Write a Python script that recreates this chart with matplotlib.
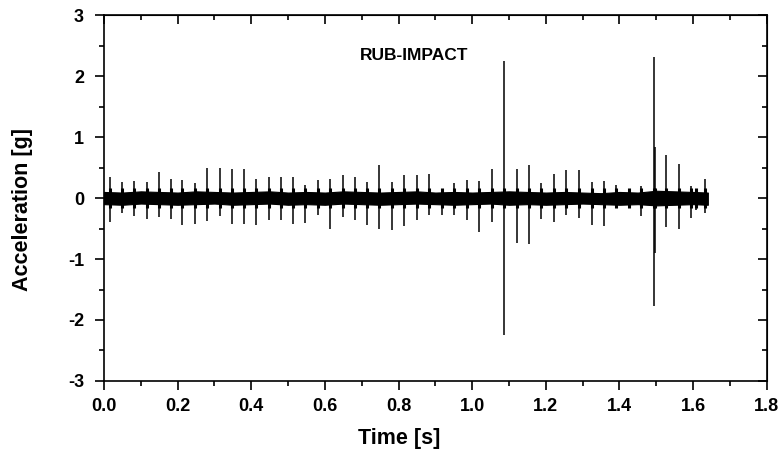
import matplotlib.pyplot as plt
from matplotlib.ticker import MultipleLocator

# spike times [s] with their positive and negative peaks [g]
spike_t = [0.016, 0.048, 0.082, 0.116, 0.149, 0.182, 0.213, 0.247, 0.280, 0.315,
           0.347, 0.380, 0.413, 0.447, 0.481, 0.512, 0.547, 0.580, 0.614, 0.648,
           0.681, 0.713, 0.748, 0.782, 0.815, 0.849, 0.882, 0.917, 0.950, 0.985,
           1.018, 1.053, 1.087, 1.121, 1.155, 1.188, 1.222, 1.256, 1.290, 1.324,
           1.357, 1.390, 1.425, 1.459, 1.495, 1.497, 1.527, 1.562, 1.595, 1.609, 1.631]
spike_top = [0.35, 0.26, 0.28, 0.26, 0.43, 0.31, 0.30, 0.24, 0.50, 0.50,
             0.47, 0.47, 0.32, 0.35, 0.34, 0.35, 0.21, 0.30, 0.32, 0.38,
             0.34, 0.27, 0.54, 0.26, 0.38, 0.38, 0.40, 0.13, 0.25, 0.30,
             0.28, 0.47, 2.25, 0.47, 0.54, 0.25, 0.40, 0.46, 0.46, 0.27,
             0.28, 0.21, 0.12, 0.19, 2.31, 0.84, 0.70, 0.56, 0.19, 0.12, 0.31]
spike_bot = [-0.39, -0.25, -0.30, -0.35, -0.31, -0.34, -0.44, -0.43, -0.37, -0.30,
             -0.42, -0.42, -0.44, -0.36, -0.36, -0.43, -0.41, -0.28, -0.51, -0.31,
             -0.36, -0.44, -0.51, -0.52, -0.46, -0.36, -0.28, -0.28, -0.28, -0.36,
             -0.55, -0.40, -2.25, -0.74, -0.75, -0.35, -0.39, -0.27, -0.32, -0.45,
             -0.46, -0.14, -0.12, -0.29, -1.77, -0.90, -0.48, -0.50, -0.33, -0.20, -0.25]

# envelope of the background vibration band
band_t = [0.00, 0.05, 0.10, 0.15, 0.20, 0.25, 0.30, 0.35, 0.40, 0.45, 0.50,
          0.55, 0.60, 0.65, 0.70, 0.75, 0.80, 0.85, 0.90, 0.95, 1.00, 1.05,
          1.10, 1.15, 1.20, 1.25, 1.30, 1.35, 1.40, 1.45, 1.50, 1.55, 1.60, 1.64]
band_hi = [0.10, 0.09, 0.11, 0.10, 0.09, 0.11, 0.10, 0.09, 0.10, 0.11, 0.09,
           0.10, 0.09, 0.11, 0.10, 0.09, 0.10, 0.11, 0.09, 0.10, 0.09, 0.10,
           0.11, 0.10, 0.09, 0.10, 0.09, 0.08, 0.10, 0.09, 0.12, 0.11, 0.10, 0.09]
band_lo = [-0.10, -0.11, -0.09, -0.10, -0.11, -0.10, -0.09, -0.11, -0.10, -0.09, -0.11,
           -0.10, -0.11, -0.09, -0.10, -0.11, -0.10, -0.09, -0.10, -0.11, -0.10, -0.09,
           -0.11, -0.10, -0.11, -0.10, -0.09, -0.10, -0.11, -0.10, -0.12, -0.11, -0.10, -0.11]

plt.rcParams['font.family'] = ['Liberation Sans', 'DejaVu Sans']
plt.rcParams['font.weight'] = 'bold'

fig = plt.figure(figsize=(7.84, 4.59), dpi=100)
ax = fig.add_axes([0.1327, 0.170, 0.978 - 0.1327, 0.967 - 0.170])

ax.fill_between(band_t, band_lo, band_hi, color='black', lw=0.8)
ax.vlines(spike_t, -0.17, 0.17, color='black', lw=2.2)
ax.vlines(spike_t, spike_bot, spike_top, color='black', lw=1.1)

ax.text(0.842, 2.33, 'RUB-IMPACT', ha='center', va='center', fontsize=12.5, fontweight='bold')

ax.set_xlim(0, 1.8)
ax.set_ylim(-3, 3)
ax.xaxis.set_major_locator(MultipleLocator(0.2))
ax.xaxis.set_minor_locator(MultipleLocator(0.1))
ax.yaxis.set_major_locator(MultipleLocator(1))
ax.yaxis.set_minor_locator(MultipleLocator(0.5))
ax.xaxis.set_major_formatter(plt.FuncFormatter(lambda v, p: f"{v:.1f}"))
ax.yaxis.set_major_formatter(plt.FuncFormatter(lambda v, p: f"{v:.0f}"))

for s in ax.spines.values():
    s.set_linewidth(1.2)
ax.tick_params(which='major', direction='out', length=6.5, width=1.2, labelsize=13)
ax.tick_params(axis='x', which='major', pad=6)
ax.tick_params(axis='y', which='major', pad=8)
ax.tick_params(which='minor', direction='out', length=3.5, width=1.2)
for lab in ax.get_xticklabels() + ax.get_yticklabels():
    lab.set_fontweight('bold')

top = ax.secondary_xaxis('top')
top.xaxis.set_major_locator(MultipleLocator(0.2))
top.xaxis.set_minor_locator(MultipleLocator(0.1))
top.tick_params(which='major', direction='in', length=6.5, width=1.2, labeltop=False)
top.tick_params(which='minor', direction='in', length=3.5, width=1.2)
right = ax.secondary_yaxis('right')
right.yaxis.set_major_locator(MultipleLocator(1))
right.yaxis.set_minor_locator(MultipleLocator(0.5))
right.tick_params(which='major', direction='in', length=6.5, width=1.2, labelright=False)
right.tick_params(which='minor', direction='in', length=3.5, width=1.2)

ax.set_xlabel('Time [s]', fontsize=15.5, fontweight='bold')
ax.set_ylabel('Acceleration [g]', fontsize=15.5, fontweight='bold')
ax.xaxis.set_label_coords(0.446, -0.128)
ax.yaxis.set_label_coords(-0.107, 0.47)

fig.savefig('out.png', dpi=100)
